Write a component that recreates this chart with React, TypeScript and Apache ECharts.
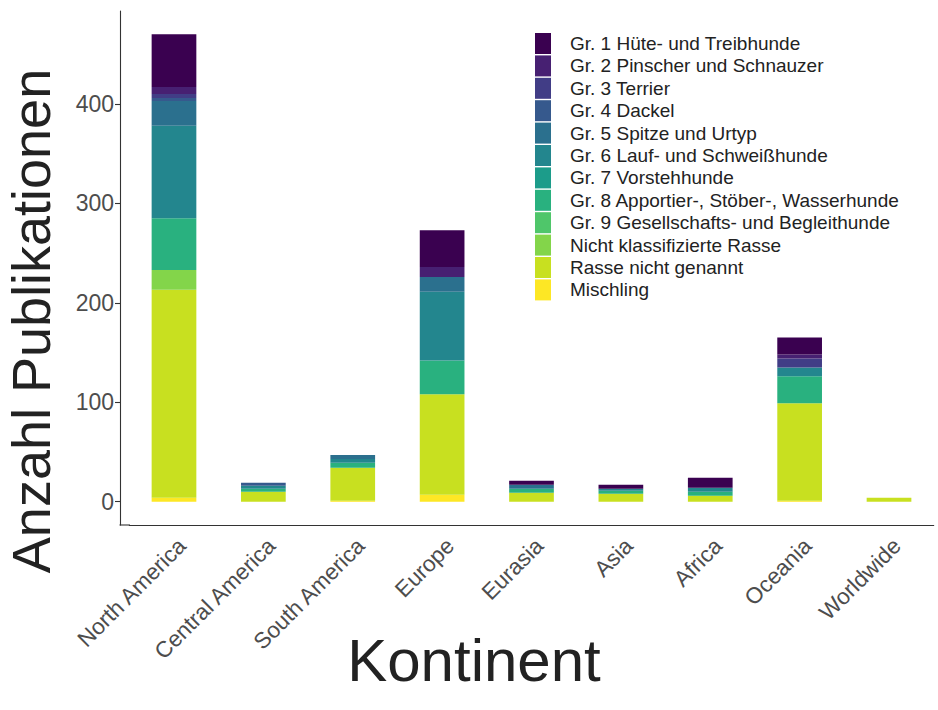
import React, { useEffect, useRef } from "react";
import * as echarts from "echarts";

const categories = [
  "North America",
  "Central America",
  "South America",
  "Europe",
  "Eurasia",
  "Asia",
  "Africa",
  "Oceania",
  "Worldwide",
];

// values per continent (same order as categories)
const gr1 = [53, 0, 0, 37, 4, 4, 10, 17, 0];
const gr2 = [7, 0, 0, 10, 0, 0, 0, 4, 0];
const gr3 = [4, 0, 0, 0, 0, 0, 0, 9, 0];
const gr4 = [3, 3, 0, 0, 0, 0, 0, 0, 0];
const gr5 = [25, 0, 4, 15, 4, 0, 0, 0, 0];
const gr6 = [93, 3, 4, 69, 0, 2, 4, 9, 0];
const gr7 = [0, 0, 0, 0, 0, 0, 0, 0, 0];
const gr8 = [52, 3, 5, 34, 4, 3, 4, 27, 0];
const gr9 = [0, 0, 0, 0, 0, 0, 0, 0, 0];
const nichtKlassifiziert = [20, 0, 0, 0, 0, 0, 0, 0, 0];
const rasseNichtGenannt = [209, 10, 33, 101, 9, 8, 6, 98, 4];
const mischling = [4, 0, 1, 7, 0, 0, 0, 1, 0];

const groupNames = [
  "Gr. 1 Hüte- und Treibhunde",
  "Gr. 2 Pinscher und Schnauzer",
  "Gr. 3 Terrier",
  "Gr. 4 Dackel",
  "Gr. 5 Spitze und Urtyp",
  "Gr. 6 Lauf- und Schweißhunde",
  "Gr. 7 Vorstehhunde",
  "Gr. 8 Apportier-, Stöber-, Wasserhunde",
  "Gr. 9 Gesellschafts- und Begleithunde",
  "Nicht klassifizierte Rasse",
  "Rasse nicht genannt",
  "Mischling",
];

const groupColors = [
  "#3a0150",
  "#472072",
  "#413D86",
  "#36598D",
  "#2B708E",
  "#23868E",
  "#1C9C8A",
  "#29B17F",
  "#4FC66A",
  "#83D54A",
  "#C8E020",
  "#FDE725",
];

const yTicks = [0, 100, 200, 300, 400];

const FONT = "'Liberation Sans', Arial, Helvetica, sans-serif";

export default function App() {
  const ref = useRef<HTMLDivElement>(null);

  useEffect(() => {
    if (!ref.current) return;
    const chart = echarts.init(ref.current, null, { renderer: "svg" });
    const values = [
      gr1, gr2, gr3, gr4, gr5, gr6, gr7, gr8, gr9,
      nichtKlassifiziert, rasseNichtGenannt, mischling,
    ];
    const layers = groupNames.map((name, i) => ({
      name,
      data: values[i],
      color: groupColors[i],
    }));
    const stackOrder = [...layers].reverse();

    chart.setOption({
      animation: false,
      backgroundColor: "#ffffff",
      textStyle: { fontFamily: FONT },
      grid: { left: 129.3, top: 11, width: 804.4, height: 514 },
      xAxis: {
        type: "category",
        data: categories,
        axisLine: { onZero: false, lineStyle: { color: "#333333", width: 1.1 } },
        axisTick: {
          alignWithLabel: true,
          length: 5,
          lineStyle: { color: "#333333", width: 1.1 },
        },
        axisLabel: {
          interval: 0,
          rotate: 45,
          fontSize: 22.5,
          color: "#4d4d4d",
          margin: 9,
          verticalAlign: "top",
          fontFamily: FONT,
        },
        splitLine: { show: false },
      },
      yAxis: {
        type: "value",
        min: -23.5,
        max: 493.5,
        offset: 9.3,
        axisLine: { show: true, lineStyle: { color: "#333333", width: 1.1 } },
        axisTick: {
          show: true,
          length: 5,
          customValues: yTicks,
          lineStyle: { color: "#333333", width: 1.1 },
        },
        axisLabel: {
          customValues: yTicks,
          fontSize: 23,
          color: "#4d4d4d",
          margin: 6,
          fontFamily: FONT,
        },
        splitLine: { show: false },
      },
      legend: {
        orient: "vertical",
        left: 530,
        top: 28,
        itemWidth: 16,
        itemHeight: 21,
        itemGap: 1.4,
        icon: "rect",
        data: groupNames,
        selectedMode: false,
        textStyle: {
          fontSize: 19,
          color: "#222222",
          fontFamily: FONT,
          padding: [0, 0, 0, 14],
        },
      },
      series: stackOrder.map((l) => ({
        type: "bar",
        name: l.name,
        stack: "total",
        data: l.data,
        barWidth: 44.7,
        itemStyle: { color: l.color },
        emphasis: { disabled: true },
      })),
      graphic: [
        {
          type: "line",
          shape: { x1: 119.5, y1: 525, x2: 130, y2: 525 },
          style: { stroke: "#333333", lineWidth: 1.1 },
        },
        {
          type: "text",
          x: 31,
          y: 321,
          rotation: Math.PI / 2,
          style: {
            text: "Anzahl Publikationen",
            fontSize: 54,
            fill: "#222222",
            align: "center",
            verticalAlign: "middle",
            fontFamily: FONT,
          },
        },
        {
          type: "text",
          x: 474,
          y: 660,
          style: {
            text: "Kontinent",
            fontSize: 60,
            fill: "#222222",
            align: "center",
            verticalAlign: "middle",
            fontFamily: FONT,
          },
        },
      ],
    });

    return () => chart.dispose();
  }, []);

  return (
    <div
      ref={ref}
      style={{ position: "fixed", left: 0, top: 0, width: 938, height: 710 }}
    />
  );
}
